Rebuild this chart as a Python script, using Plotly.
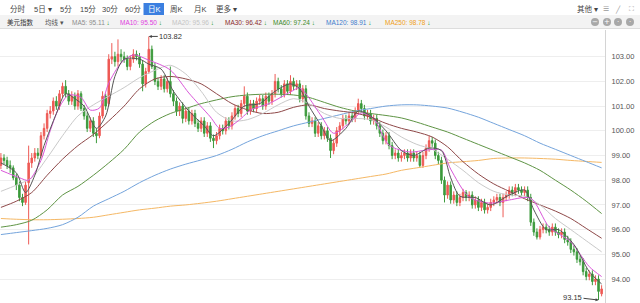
import plotly.graph_objects as go

# ---------------- data ----------------
OPEN = [98.6,98.9,98.8,98.6,98.5,98.1,97.8,97.3,97.1,97.9,
        98.7,98.9,99.1,99.0,99.8,100.1,100.7,100.8,101.2,101.0,
        101.5,101.8,101.5,101.2,101.4,101.0,101.5,100.9,100.6,100.1,
        100.4,99.9,99.8,100.6,101.4,101.1,102.9,103.0,102.8,103.1,
        103.0,102.9,102.6,102.9,103.1,103.0,102.7,101.9,102.4,103.3,
        102.6,102.0,101.8,102.1,101.7,102.0,101.5,101.2,100.8,101.0,
        100.5,100.8,100.4,100.7,100.3,100.1,100.4,99.9,100.2,99.7,
        99.6,99.8,100.1,100.0,100.4,100.2,100.6,100.9,100.7,101.1,
        101.4,100.8,101.1,100.9,101.2,101.3,101.0,101.4,101.2,101.5,
        102.0,101.7,101.5,101.9,101.6,102.0,101.8,101.9,101.3,101.7,
        100.6,100.3,100.4,99.9,100.2,99.8,100.0,99.7,99.2,99.5,
        100.0,100.2,100.5,100.4,100.6,100.5,100.8,101.1,100.9,100.6,
        100.7,100.4,100.5,100.2,99.9,99.6,99.8,99.4,99.0,99.1,
        98.9,99.0,99.1,98.9,99.1,98.9,99.0,98.6,99.0,99.3,
        99.6,99.5,99.0,98.8,98.0,97.4,97.8,97.2,97.4,97.1,
        97.3,97.5,97.3,97.4,97.0,97.2,96.9,97.1,96.8,96.9,
        97.1,97.2,97.3,97.1,97.3,97.4,97.6,97.5,97.7,97.6,
        97.5,97.6,97.3,96.3,95.9,95.7,96.0,96.1,96.0,95.9,
        96.1,95.9,95.8,95.9,95.6,95.5,95.2,95.1,94.8,94.7,
        94.3,94.1,94.2,93.9,94.0,93.4]
HIGH = [99.1,99.05,98.95,98.8,98.6,98.25,97.95,97.45,97.95,99.4,
        99.1,99.3,99.3,99.95,100.3,100.85,101.0,101.35,101.4,101.65,
        101.95,102.05,101.65,101.6,101.55,101.65,101.6,101.05,100.75,100.55,
        100.55,100.1,100.75,101.6,101.5,103.1,103.55,103.2,103.7,103.3,
        103.2,103.05,103.05,103.3,103.25,103.15,102.85,102.55,103.82,103.45,
        102.75,102.15,102.25,102.25,102.15,102.6,101.65,101.35,101.15,101.15,
        100.95,100.95,100.85,100.85,100.45,100.55,100.55,100.35,100.35,99.85,
        99.95,100.25,100.25,100.55,100.55,100.75,101.05,101.05,101.25,101.8,
        101.55,101.25,101.25,101.35,101.45,101.45,101.55,101.55,101.65,102.3,
        102.15,101.85,102.05,102.05,102.25,102.15,102.05,102.05,101.85,101.85,
        100.75,100.55,100.55,100.35,100.35,100.15,100.15,99.85,99.65,100.15,
        100.35,100.65,100.65,100.75,100.75,100.95,101.3,101.25,101.05,100.85,
        100.85,100.65,100.65,100.35,100.05,99.95,99.95,99.55,99.25,99.25,
        99.15,99.25,99.25,99.25,99.25,99.15,99.15,99.15,99.45,99.8,
        99.75,99.65,99.15,98.95,98.15,97.95,97.95,97.55,97.55,97.45,
        97.65,97.6,97.55,97.55,97.35,97.35,97.25,97.25,97.05,97.25,
        97.35,97.45,97.45,97.45,97.55,97.75,97.75,97.85,97.85,97.75,
        97.75,97.75,97.45,96.45,96.05,96.15,96.25,96.25,96.15,96.25,
        96.25,96.05,96.05,96.05,95.75,95.65,95.35,95.25,94.95,94.85,
        94.45,94.35,94.35,94.15,94.15,93.75]
LOW = [98.45,98.65,98.45,98.3,98.0,97.6,97.15,96.95,97.0,95.4,
       98.5,98.75,98.85,98.9,99.65,99.95,100.5,100.65,100.85,100.85,
       101.35,101.35,101.05,101.05,100.85,100.85,100.8,100.45,99.95,99.95,
       99.75,99.5,99.7,100.5,100.85,101.0,102.7,102.6,102.6,102.8,
       102.75,102.45,102.45,102.75,102.85,102.55,101.6,101.75,102.3,102.5,
       101.85,101.65,101.65,101.55,101.55,101.35,101.0,100.6,100.6,100.3,
       100.35,100.25,100.25,100.15,99.95,99.95,99.75,99.75,99.55,99.3,
       99.45,99.65,99.85,99.85,100.05,100.05,100.45,100.55,100.55,100.95,
       100.65,100.65,100.75,100.75,101.05,100.85,100.85,101.05,101.05,101.35,
       101.55,101.35,101.35,101.45,101.45,101.65,101.65,101.15,101.15,100.45,
       100.15,100.15,99.75,99.75,99.65,99.65,99.55,98.9,99.05,99.35,
       99.85,100.05,100.25,100.25,100.35,100.35,100.65,100.75,100.45,100.45,
       100.25,100.25,100.05,99.75,99.45,99.45,99.25,98.85,98.85,98.75,
       98.75,98.85,98.75,98.75,98.75,98.75,98.5,98.5,98.85,99.15,
       99.35,98.85,98.65,97.85,97.1,97.25,97.05,97.05,96.95,96.95,
       97.15,97.15,97.15,96.85,96.85,96.75,96.75,96.65,96.65,96.75,
       96.95,97.05,96.95,96.5,97.15,97.25,97.35,97.35,97.45,97.35,
       97.35,97.15,96.15,95.75,95.6,95.6,95.85,95.85,95.75,95.75,
       95.75,95.65,95.65,95.45,95.35,95.05,94.95,94.65,94.55,94.15,
       93.95,93.95,93.75,93.75,93.15,93.3]
CLOSE = [98.9,98.8,98.6,98.5,98.1,97.8,97.3,97.1,97.8,98.7,
         98.9,99.1,99.0,99.8,100.1,100.7,100.8,101.2,101.0,101.5,
         101.8,101.5,101.2,101.4,101.0,101.5,100.9,100.6,100.1,100.4,
         99.9,99.8,100.6,101.4,101.0,102.9,103.0,102.8,103.1,103.0,
         102.9,102.6,102.9,103.1,103.0,102.7,101.9,102.4,103.3,102.6,
         102.0,101.8,102.1,101.7,102.0,101.5,101.2,100.8,101.0,100.5,
         100.8,100.4,100.7,100.3,100.1,100.4,99.9,100.2,99.7,99.6,
         99.8,100.1,100.0,100.4,100.2,100.6,100.9,100.7,101.1,101.4,
         100.8,101.1,100.9,101.2,101.3,101.0,101.4,101.2,101.5,102.0,
         101.7,101.5,101.9,101.6,102.0,101.8,101.9,101.3,101.7,100.6,
         100.3,100.4,99.9,100.2,99.8,100.0,99.7,99.2,99.5,100.0,
         100.2,100.5,100.4,100.6,100.5,100.8,101.1,100.9,100.6,100.7,
         100.4,100.5,100.2,99.9,99.6,99.8,99.4,99.0,99.1,98.9,
         99.0,99.1,98.9,99.1,98.9,99.0,98.6,99.0,99.3,99.6,
         99.5,99.0,98.8,98.0,97.4,97.8,97.2,97.4,97.1,97.3,
         97.5,97.3,97.4,97.0,97.2,96.9,97.1,96.8,96.9,97.1,
         97.2,97.3,97.1,97.3,97.4,97.6,97.5,97.7,97.6,97.5,
         97.6,97.3,96.3,95.9,95.7,96.0,96.1,96.0,95.9,96.1,
         95.9,95.8,95.9,95.6,95.5,95.2,95.1,94.8,94.7,94.3,
         94.1,94.2,93.9,94.0,93.5,93.6]
DAYS = list(range(len(CLOSE)))

MA5_IDX = [0,5,8,11,14,18,21,24,27,31,34,37,40,45,48,52,56,61,66,69,74,79,84,89,94,97,100,104,107,112,
           116,120,125,130,134,139,143,146,149,154,159,165,170,173,177,181,186,191,195]
MA5_VAL = [98.7,98.3,97.5,98.2,99.4,100.7,101.5,101.3,101.0,100.1,100.6,102.2,102.9,102.9,102.7,102.5,101.6,100.8,100.2,99.8,
           100.3,101.0,101.1,101.6,101.9,101.7,101.0,100.2,99.6,100.1,100.8,100.6,100.0,99.2,99.0,99.3,99.2,98.1,97.35,97.3,
           97.0,97.4,97.6,96.8,96.0,96.0,95.4,94.3,93.8]
MA10_IDX = [0,6,9,13,16,19,22,26,29,32,35,39,43,48,55,61,68,71,74,78,81,87,94,97,104,108,113,117,121,126,
            133,138,143,146,152,159,165,172,178,185,191,195]
MA10_VAL = [98.4,98.1,98.0,98.8,100.0,100.96,101.45,101.35,100.84,100.92,101.93,102.74,103.07,102.86,102.46,101.53,100.56,100.1,100.15,100.5,
            100.84,101.1,101.57,101.73,100.6,99.9,100.3,100.72,100.5,99.42,99.14,99.22,99.22,98.45,97.32,97.07,97.2,97.27,96.1,95.5,
            94.5,94.1]
MA_GRID = [0,5,10,15,20,25,30,35,40,45,50,55,60,65,70,75,80,85,90,95,
           100,105,110,115,120,125,130,135,140,145,150,155,160,165,170,175,180,185,190,195]
MA20_VAL = [97.55,97.8,98.1,98.9,99.8,100.6,101.05,101.4,101.75,102.15,102.45,102.65,102.3,101.6,100.75,100.4,100.45,100.7,101.05,101.3,
            101.1,100.7,100.5,100.5,100.45,100.15,99.75,99.45,99.25,98.85,98.4,97.9,97.55,97.4,97.35,97.0,96.45,96.0,95.55,95.1]
MA30_VAL = [96.9,97.15,97.5,98.2,98.85,99.4,99.85,100.4,101.0,101.7,102.1,102.2,102.1,101.9,101.5,101.1,100.85,100.7,100.75,100.95,
            101.05,100.9,100.8,100.72,100.55,100.3,100.1,99.95,99.75,99.35,98.75,98.25,97.85,97.55,97.25,97.0,96.75,96.45,96.05,95.65]
MA60_VAL = [96.1,96.2,96.38,96.8,97.4,97.75,98.2,98.7,99.25,99.95,100.4,100.7,100.9,101.1,101.25,101.38,101.45,101.48,101.48,101.45,
            101.35,101.15,100.95,100.8,100.7,100.62,100.52,100.35,100.15,99.95,99.7,99.45,99.2,98.95,98.7,98.4,98.0,97.6,97.15,96.65]
MA120_VAL = [95.8,95.88,95.96,96.05,96.2,96.5,96.95,97.25,97.55,97.9,98.2,98.45,98.65,98.82,99.0,99.25,99.55,99.8,100.0,100.2,
             100.35,100.5,100.65,100.8,100.9,101.0,101.05,101.05,101.0,100.92,100.75,100.55,100.3,100.05,99.8,99.5,99.25,99.0,98.75,98.5]
MA250_VAL = [96.45,96.42,96.4,96.4,96.42,96.45,96.5,96.6,96.7,96.8,96.87,96.95,97.0,97.07,97.15,97.25,97.35,97.45,97.55,97.65,
             97.75,97.85,97.95,98.05,98.15,98.25,98.4,98.5,98.6,98.7,98.75,98.8,98.88,98.9,98.9,98.88,98.85,98.8,98.76,98.72]

HIGH_LABEL = "103.82"
LOW_LABEL = "93.15"
Y_TICKS = [94, 95, 96, 97, 98, 99, 100, 101, 102, 103]

TOP_TABS = ["分时", "5日 ▾", "5分", "15分", "30分", "60分", "日K", "周K", "月K", "更多 ▾"]
MA_HEADER = [("MA5: 95.11", "#8c8c8c"), ("MA10: 95.50", "#e03ce0"), ("MA20: 95.96", "#c4c4c4"),
             ("MA30: 96.42", "#8b2b2b"), ("MA60: 97.24", "#3d8a2a"), ("MA120: 98.91", "#3f7ccc"),
             ("MA250: 98.78", "#f0a020")]

# ---------------- styling ----------------
RED = "#ee5a55"
GREEN = "#3c9a3c"
W, H = 640, 303
ML, MR, MT, MB = 0, 35, 30, 0
PW, PH = W - ML - MR, H - MT - MB
FONT = "Liberation Sans, Arial, Noto Sans CJK SC, sans-serif"


def px(x):
    return (x - ML) / PW


def py(y):
    return 1 + (MT - y) / PH


fig = go.Figure()
fig.add_trace(go.Candlestick(
    x=DAYS, open=OPEN, high=HIGH, low=LOW, close=CLOSE,
    increasing=dict(line=dict(color=RED, width=1), fillcolor=RED),
    decreasing=dict(line=dict(color=GREEN, width=1), fillcolor=GREEN),
    whiskerwidth=0, hoverinfo="skip"))

lines = [
    (MA_GRID, MA250_VAL, "#f5b865"),
    (MA_GRID, MA120_VAL, "#74a4dc"),
    (MA_GRID, MA60_VAL, "#5e9444"),
    (MA_GRID, MA30_VAL, "#8e4848"),
    (MA_GRID, MA20_VAL, "#c9c9c9"),
    (MA10_IDX, MA10_VAL, "#d957d9"),
    (MA5_IDX, MA5_VAL, "#555555"),
]
for xs, ys, col in lines:
    fig.add_trace(go.Scatter(x=xs, y=ys, mode="lines",
                             line=dict(color=col, width=1, shape="spline", smoothing=0.8),
                             hoverinfo="skip"))

ann = []
shapes = []

# header row backgrounds
shapes.append(dict(type="rect", xref="paper", yref="paper", x0=px(0), x1=px(W), y0=py(28.5), y1=py(15),
                   fillcolor="#f3f3f3", line=dict(width=0), layer="below"))
shapes.append(dict(type="line", xref="paper", yref="paper", x0=px(0), x1=px(W), y0=py(28.5), y1=py(28.5),
                   line=dict(color="#dddddd", width=1)))

# top tabs
tab_x = [8, 32, 58, 78, 100, 123, 146, 168, 192, 214]
for t, x in zip(TOP_TABS, tab_x):
    col = "#444444"
    if t == "日K":
        shapes.append(dict(type="rect", xref="paper", yref="paper", x0=px(143.5), x1=px(164), y0=py(15),
                           y1=py(3), fillcolor="#3b7fe0", line=dict(width=0)))
        col = "white"
    ann.append(dict(text=t, x=px(x), y=py(9), xref="paper", yref="paper", xanchor="left", yanchor="middle",
                    showarrow=False, font=dict(size=7.5, color=col, family=FONT)))
ann.append(dict(text="其他 ▾", x=px(575), y=py(9), xref="paper", yref="paper", xanchor="left", yanchor="middle",
                showarrow=False, font=dict(size=7.5, color="#444444", family=FONT)))
for s, x in [("☰", 606), ("╱", 618), ("⛶", 631)]:
    ann.append(dict(text=s, x=px(x), y=py(9), xref="paper", yref="paper", xanchor="center", yanchor="middle",
                    showarrow=False, font=dict(size=7, color="#9a9a9a", family="DejaVu Sans")))

# second row
ann.append(dict(text="美元指数", x=px(5), y=py(22), xref="paper", yref="paper", xanchor="left", yanchor="middle",
                showarrow=False, font=dict(size=6.5, color="#333333", family=FONT)))
ann.append(dict(text="均线 ▾", x=px(43), y=py(22), xref="paper", yref="paper", xanchor="left", yanchor="middle",
                showarrow=False, font=dict(size=6.5, color="#555555", family=FONT)))
ma_x = [70, 118, 170, 223, 271, 324, 383]
for (t, c), x in zip(MA_HEADER, ma_x):
    ann.append(dict(text=t + ' <span style="color:#2c9a2c">↓</span>', x=px(x), y=py(22), xref="paper",
                    yref="paper", xanchor="left", yanchor="middle", showarrow=False,
                    font=dict(size=6.5, color=c, family=FONT)))
for x, sym in [(595, "−"), (607, "+"), (618, "·"), (630, "·")]:
    shapes.append(dict(type="circle", xref="paper", yref="paper", xsizemode="pixel", ysizemode="pixel",
                       xanchor=px(x), yanchor=py(22), x0=-4, x1=4, y0=-4, y1=4,
                       fillcolor="#a8a8a8", line=dict(width=0)))
    ann.append(dict(text=sym, x=px(x), y=py(22), xref="paper", yref="paper", xanchor="center",
                    yanchor="middle", showarrow=False, font=dict(size=7, color="white", family="DejaVu Sans")))

# high / low labels
ann.append(dict(text=HIGH_LABEL, x=DAYS[HIGH.index(max(HIGH))], y=max(HIGH), xref="x", yref="y",
                showarrow=True, ax=22, ay=0, arrowhead=2, arrowsize=0.6, arrowwidth=1, arrowcolor="#444444",
                font=dict(size=7.5, color="#333333", family=FONT)))
ann.append(dict(text=LOW_LABEL, x=DAYS[LOW.index(min(LOW))], y=min(LOW), xref="x", yref="y",
                showarrow=True, ax=-26, ay=-3, arrowhead=2, arrowsize=0.6, arrowwidth=1, arrowcolor="#444444",
                font=dict(size=7.5, color="#333333", family=FONT)))

fig.update_layout(
    width=W, height=H, margin=dict(l=ML, r=MR, t=MT, b=MB, pad=0),
    paper_bgcolor="white", plot_bgcolor="white", showlegend=False,
    annotations=ann, shapes=shapes,
    xaxis=dict(range=[-0.3, 196.1], visible=False, rangeslider=dict(visible=False), fixedrange=True),
    yaxis=dict(range=[93.03, 104.08], side="right", tickvals=Y_TICKS, tickformat=".2f",
               gridcolor="#eeeeee", gridwidth=1, showline=True, linecolor="#d4d4d4", mirror=True,
               zeroline=False, ticks="", ticklabelstandoff=4,
               tickfont=dict(size=7.5, color="#555555", family=FONT)),
)

fig.write_html("out.html")
